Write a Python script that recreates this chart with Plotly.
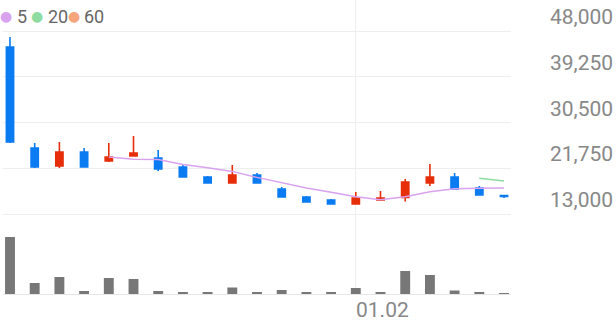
import plotly.graph_objects as go

# ---------------- data ----------------
idx = list(range(21))
opens  = [44940, 25620, 22180, 24860, 23140, 24090, 23710, 21990, 20080, 18930, 20460,
          17780, 16250, 15680, 14910, 15680, 16150, 18930, 20080, 17970, 16540]
highs  = [46850, 26580, 26770, 25620, 26580, 27920, 25240, 22560, 20270, 22370, 20840,
          18160, 16440, 15870, 17210, 17400, 19700, 22560, 20840, 18350, 16630]
lows   = [26580, 21800, 21800, 21950, 22950, 24000, 21220, 19980, 18830, 18830, 18900,
          16150, 15270, 14880, 14880, 15490, 15390, 18350, 17760, 16600, 16060]
closes = [26770, 21990, 24860, 21990, 23900, 24670, 21610, 20080, 18930, 20460, 18930,
          16250, 15300, 14910, 16060, 16060, 19120, 20080, 17780, 16630, 16350]
ma5 = [None, None, None, None, 23902, 23482, 23406, 22450, 21838, 21150, 20002,
       18930, 17974, 17170, 16290, 15716, 16290, 17246, 17820, 17934, 17992]
ma20 = [None] * 19 + [19819, 19298]
ma60 = [None] * 21
volumes = [5700000, 1100000, 1700000, 300000, 1600000, 1500000, 300000, 200000, 150000,
           650000, 150000, 400000, 200000, 150000, 600000, 200000, 2300000, 1900000,
           350000, 150000, 100000]
price_ticks = [13000, 21750, 30500, 39250, 48000]
price_tick_labels = ["13,000", "21,750", "30,500", "39,250", "48,000"]
date_tick_index = 14
date_tick_label = "01.02"
ma_names = ["5", "20", "60"]

# ---------------- style ----------------
W, H = 616, 321
RED = "#e62e0b"
BLUE = "#0b7bf2"
MA_COLORS = ["#d9a2ef", "#8fdca3", "#f6a47c"]
GRID = "#eeeeee"
LABEL = "#888888"
FONT = "Roboto"

fig = go.Figure()

fig.add_trace(go.Candlestick(
    x=idx, open=opens, high=highs, low=lows, close=closes,
    increasing=dict(line=dict(color=RED, width=1.6), fillcolor=RED),
    decreasing=dict(line=dict(color=BLUE, width=1.6), fillcolor=BLUE),
    whiskerwidth=0, showlegend=False, hoverinfo="skip",
    xaxis="x", yaxis="y",
))
for vals, col, nm in zip([ma5, ma20, ma60], MA_COLORS, ma_names):
    fig.add_trace(go.Scatter(
        x=idx, y=vals, mode="lines", line=dict(color=col, width=1.5),
        name=nm, showlegend=False, hoverinfo="skip", xaxis="x", yaxis="y",
    ))

fig.add_trace(go.Bar(
    x=idx, y=volumes, width=0.4, marker=dict(color="#777777", line=dict(width=0)),
    showlegend=False, hoverinfo="skip", xaxis="x2", yaxis="y2",
))

x_dom = [3 / W, 511 / W]
price_bottom_px = 216
vol_bottom_px = 294
fig.update_layout(
    width=W, height=H, autosize=False,
    margin=dict(l=0, r=0, t=0, b=0, pad=0),
    paper_bgcolor="white", plot_bgcolor="white",
    boxgap=0.58,
    font=dict(family=FONT),
    xaxis=dict(domain=x_dom, anchor="y", range=[-0.283, 20.283],
               tickvals=[date_tick_index], showticklabels=False, ticks="",
               showgrid=True, gridcolor=GRID, gridwidth=1, zeroline=False,
               rangeslider=dict(visible=False), fixedrange=True),
    yaxis=dict(domain=[1 - price_bottom_px / H, 1], anchor="x", side="right",
               range=[12617.5, 53929], tickvals=price_ticks,
               showticklabels=False,
               showgrid=True, gridcolor=GRID, gridwidth=1, zeroline=False, ticks="",
               automargin=False, fixedrange=True),
    xaxis2=dict(domain=x_dom, anchor="y2", matches="x",
                tickvals=[date_tick_index], showticklabels=False, ticks="",
                showgrid=True, gridcolor=GRID, gridwidth=1, zeroline=False,
                showline=True, linecolor="#e6e6e6", linewidth=1, fixedrange=True),
    yaxis2=dict(domain=[1 - vol_bottom_px / H, 1 - price_bottom_px / H], anchor="x2",
                range=[0, 7800000], showgrid=False, zeroline=False,
                showticklabels=False, ticks="", fixedrange=True),
)

# price labels: right-aligned, sitting above their gridlines
for v, t in zip(price_ticks, price_tick_labels):
    fig.add_annotation(x=612 / W, xref="paper", y=v, yref="y", text=t,
                       showarrow=False, xanchor="right", yanchor="middle",
                       yshift=14, xshift=3,
                       font=dict(family=FONT, size=21, color=LABEL))

# date label (left-aligned at its gridline)
fig.add_annotation(x=date_tick_index, xref="x2", y=1 - 310 / H, yref="paper",
                   text=date_tick_label, showarrow=False, xanchor="left", yanchor="middle",
                   xshift=-2, font=dict(family=FONT, size=21, color=LABEL))

# legend: coloured dots + names
dot_x = [6, 37, 74]
txt_x = [15, 46, 82]
for dx, tx, col, nm in zip(dot_x, txt_x, MA_COLORS, ma_names):
    fig.add_annotation(x=dx / W, xref="paper", y=1 - 16 / H, yref="paper", text="●",
                       showarrow=False, xanchor="center", yanchor="middle",
                       font=dict(family="DejaVu Sans", size=14, color=col))
    fig.add_annotation(x=tx / W, xref="paper", y=1 - 16 / H, yref="paper", text=nm,
                       showarrow=False, xanchor="left", yanchor="middle",
                       font=dict(family=FONT, size=18, color="#666666"))

fig.write_html("out.html", config=dict(displayModeBar=False))
